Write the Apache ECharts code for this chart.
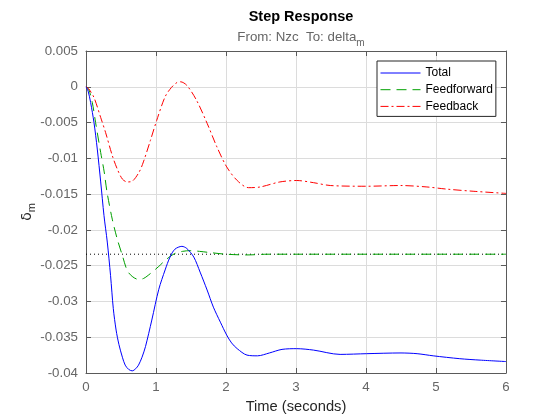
<!DOCTYPE html>
<html>
<head>
<meta charset="utf-8">
<script src="https://cdn.jsdelivr.net/npm/echarts@6/dist/echarts.min.js"></script>
<style>
  html, body { margin: 0; padding: 0; background: #fff; }
  #chart { width: 560px; height: 420px; }
</style>
</head>
<body>
<div id="chart"></div>
<script>
// values
const seriesNames = ["Total", "Feedforward", "Feedback"];

const totalTime = [0, 0.03, 0.066, 0.114, 0.161, 0.21, 0.257, 0.304, 0.351, 0.39, 0.43, 0.47, 0.52, 0.56, 0.61, 0.66, 0.71, 0.75, 0.8, 0.85, 0.94, 1.04, 1.13, 1.2, 1.27, 1.37, 1.44, 1.54, 1.63, 1.73, 1.82, 1.92, 2.01, 2.08, 2.16, 2.3, 2.45, 2.62, 2.8, 3.01, 3.25, 3.63, 4.01, 4.5, 4.73, 4.96, 5.34, 5.63, 6];
const totalValues = [0, -0.0006, -0.0022, -0.005, -0.0087, -0.0133, -0.018, -0.0217, -0.0264, -0.031, -0.034, -0.036, -0.0378, -0.0389, -0.0395, -0.0397, -0.0394, -0.0389, -0.0378, -0.0363, -0.0326, -0.0283, -0.0256, -0.0238, -0.0227, -0.0223, -0.0226, -0.0238, -0.0259, -0.0284, -0.0308, -0.0329, -0.0347, -0.0358, -0.0366, -0.0375, -0.0376, -0.0372, -0.0367, -0.0366, -0.0368, -0.0374, -0.0373, -0.0372, -0.0373, -0.0376, -0.038, -0.0382, -0.0384];

const feedforwardTime = [0, 0.04, 0.09, 0.137, 0.21, 0.26, 0.3, 0.375, 0.447, 0.52, 0.59, 0.66, 0.74, 0.82, 0.92, 1.04, 1.15, 1.27, 1.38, 1.49, 1.62, 1.8, 2, 2.3, 2.6, 3, 4, 5, 6];
const feedforwardValues = [0, -0.0004, -0.0022, -0.005, -0.0092, -0.0119, -0.0147, -0.0185, -0.0213, -0.0236, -0.0257, -0.0265, -0.0269, -0.0268, -0.0261, -0.0251, -0.0241, -0.0233, -0.023, -0.0229, -0.023, -0.0232, -0.0234, -0.0235, -0.0234, -0.0234, -0.0234, -0.0234, -0.0234];

const feedbackTime = [0, 0.04, 0.114, 0.21, 0.28, 0.375, 0.447, 0.52, 0.59, 0.66, 0.76, 0.82, 0.92, 1.01, 1.13, 1.22, 1.3, 1.35, 1.44, 1.58, 1.73, 1.87, 2.01, 2.16, 2.32, 2.49, 2.77, 3.01, 3.25, 3.49, 4.01, 4.49, 4.87, 5.15, 5.53, 6];
const feedbackValues = [0, -0.0003, -0.0015, -0.0043, -0.0064, -0.0096, -0.0115, -0.0129, -0.0133, -0.0132, -0.0119, -0.0105, -0.0075, -0.0047, -0.0014, -0.0001, 0.0006, 0.0007, 0.0002, -0.0019, -0.0051, -0.0084, -0.0112, -0.0131, -0.0141, -0.014, -0.0133, -0.0131, -0.0134, -0.0138, -0.0139, -0.0138, -0.014, -0.0143, -0.0146, -0.0149];

const finalTime = [0, 6];
const finalValues = [-0.0234, -0.0234];

const xTicks = [0, 1, 2, 3, 4, 5, 6];
const yTicks = [0.005, 0, -0.005, -0.01, -0.015, -0.02, -0.025, -0.03, -0.035, -0.04];

const pairs = (ts, vs) => ts.map((t, i) => [t, vs[i]]);

const labelColor = "#666";
const frameColor = "#5a5a5a";
const gridColor = "#dcdcdc";

function axisBase(extra) {
  return Object.assign({
    type: "value",
    axisLine: { show: true, onZero: false, lineStyle: { color: frameColor, width: 1 } },
    axisTick: { show: true, inside: true, length: 5, lineStyle: { color: frameColor } },
    splitLine: { show: false },
  }, extra);
}

const chartDom = document.getElementById("chart");
const myChart = echarts.init(chartDom, null, { renderer: "canvas" });

const option = {
  animation: false,
  backgroundColor: "#fff",
  title: [
    {
      text: "Step Response",
      left: 296,
      top: 4,
      textAlign: "center",
      textStyle: { fontFamily: "Liberation Sans", fontSize: 14.5, fontWeight: "bold", color: "#000" },
    },
    {
      text: "{a|From: Nzc  To: delta}{b|m}",
      left: 296,
      top: 23,
      textAlign: "center",
      textStyle: {
        fontWeight: "normal",
        rich: {
          a: { fontFamily: "Liberation Sans", fontSize: 13.3, fontWeight: "normal", color: "#666", lineHeight: 18 },
          b: { fontFamily: "Liberation Sans", fontSize: 10, fontWeight: "normal", color: "#666", lineHeight: 18, padding: [12, 0, 0, 0] },
        },
      },
    },
  ],
  legend: {
    data: seriesNames,
    orient: "vertical",
    left: 377,
    top: 61,
    itemWidth: 40,
    itemHeight: 12,
    itemGap: 4.7,
    padding: [6, 3, 4, 3],
    borderColor: "#262626",
    borderWidth: 1,
    backgroundColor: "#fff",
    itemStyle: { opacity: 0 },
    lineStyle: { width: 1 },
    textStyle: { fontFamily: "Liberation Sans", fontSize: 12, color: "#000" },
  },
  grid: { left: 86, right: 54, top: 51, bottom: 47 },
  xAxis: [
    axisBase({
      min: 0,
      max: 6,
      interval: 1,
      position: "bottom",
      name: "Time (seconds)",
      nameLocation: "middle",
      nameGap: 26,
      nameTextStyle: { fontFamily: "Liberation Sans", fontSize: 14.7, color: "#262626" },
      axisLabel: {
        margin: 8,
        fontFamily: "Liberation Sans",
        fontSize: 13.3,
        color: labelColor,
        formatter: (v) => (xTicks.includes(v) ? String(v) : ""),
      },
      splitLine: { show: true, lineStyle: { color: gridColor, width: 1 } },
    }),
    axisBase({
      min: 0,
      max: 6,
      interval: 1,
      position: "top",
      axisLabel: { show: false },
    }),
  ],
  yAxis: [
    axisBase({
      min: -0.04,
      max: 0.005,
      interval: 0.005,
      position: "left",
      name: "{a|δ}{b|m}",
      nameLocation: "middle",
      nameRotate: 90,
      nameGap: 50,
      nameMoveOverlap: false,
      nameTextStyle: {
        rich: {
          a: { fontFamily: "DejaVu Sans", fontSize: 14, color: "#262626", lineHeight: 18 },
          b: { fontFamily: "Liberation Sans", fontSize: 11, color: "#262626", lineHeight: 18, padding: [10, 0, 0, 0] },
        },
      },
      axisLabel: {
        margin: 8,
        fontFamily: "Liberation Sans",
        fontSize: 13.3,
        color: labelColor,
        formatter: (v) => {
          const r = Math.round(v * 1000) / 1000;
          const hit = yTicks.find((t) => Math.abs(t - r) < 1e-9);
          return hit === undefined ? "" : String(hit);
        },
      },
      splitLine: { show: true, lineStyle: { color: gridColor, width: 1 } },
    }),
    axisBase({
      min: -0.04,
      max: 0.005,
      interval: 0.005,
      position: "right",
      axisLabel: { show: false },
    }),
  ],
  series: [
    {
      name: "Total",
      type: "line",
      data: pairs(totalTime, totalValues),
      smooth: 0.3,
      symbol: "none",
      color: "#0000ff",
      lineStyle: { width: 1, color: "#0000ff" },
      z: 4,
    },
    {
      name: "Feedforward",
      type: "line",
      data: pairs(feedforwardTime, feedforwardValues),
      smooth: 0.3,
      symbol: "none",
      color: "#00a000",
      lineStyle: { width: 1, color: "#00a000", type: [10, 6] },
      z: 3,
    },
    {
      name: "Feedback",
      type: "line",
      data: pairs(feedbackTime, feedbackValues),
      smooth: 0.3,
      symbol: "none",
      color: "#ff0000",
      lineStyle: { width: 1, color: "#ff0000", type: [8, 3, 2, 3] },
      z: 3,
    },
    {
      name: "final value",
      type: "line",
      data: pairs(finalTime, finalValues),
      symbol: "none",
      silent: true,
      lineStyle: { width: 1, color: "#000", type: [1, 3] },
      z: 2,
    },
  ],
};

option && myChart.setOption(option);
</script>
</body>
</html>
